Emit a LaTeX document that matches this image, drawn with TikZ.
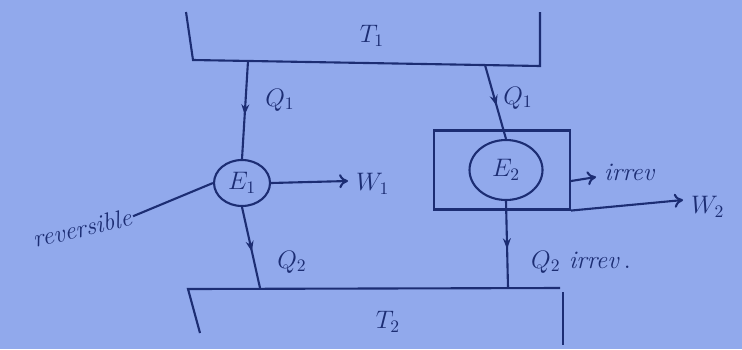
\documentclass[tikz,border=0pt]{standalone}
\usetikzlibrary{shapes.geometric,decorations.markings,arrows.meta}
\definecolor{bgblue}{RGB}{145,169,236}
\definecolor{ink}{RGB}{28,45,115}
\tikzset{
  ln/.style={draw=ink, line width=1.2pt},
  flow/.style={ln, postaction={decorate}, decoration={markings, mark=at position 0.55 with {\arrow{Stealth[length=6pt]}}}},
  outarrow/.style={ln, -{To[length=5pt,width=8pt]}},
  engine/.style={ellipse, ln, inner sep=0pt, font=\Large, text=ink},
  lbl/.style={text=ink, font=\Large},
  hand/.style={text=ink, font=\Large\itshape}
}
\begin{document}
\begin{tikzpicture}[x=0.02cm,y=-0.02cm]
\fill[bgblue] (0,0) rectangle (742,349);
\useasboundingbox (0,0) rectangle (742,349);
% hot reservoir
\draw[ln] (186,12) -- (193,60) -- (540,66) -- (540,12);
\node[lbl] (T1) at (372,36) {$T_1$};
\coordinate (t1a) at (248,61);
\coordinate (t1b) at (485,65);
% cold reservoir
\draw[ln] (200,333) -- (188,289) -- (560,288);
\draw[ln] (563,292) -- (563,345);
\node[lbl] (T2) at (388,322) {$T_2$};
\coordinate (t2a) at (260,288);
\coordinate (t2b) at (508,288);
% engine 1
\node[engine, minimum width=1.12cm, minimum height=0.92cm] (E1) at (242,183) {$E_1$};
\draw[flow] (t1a) -- (E1.north);
\node[lbl] (Q1a) at (280,100) {$Q_1$};
\draw[flow] (E1.south) -- (t2a);
\node[lbl] (Q2a) at (292,262) {$Q_2$};
\coordinate (w1) at (348,181);
\draw[outarrow] (E1.east) -- (w1);
\node[lbl, anchor=west] (W1) at (350,184) {$W_1$};
\node[hand, rotate=13, inner sep=1pt] (rev) at (82,228) {reversible};
\draw[ln] (rev.east) -- (E1.west);
% engine 2
\node[ln, minimum width=2.72cm, minimum height=1.58cm, inner sep=0pt] (box) at (502,170) {};
\node[engine, minimum width=1.46cm, minimum height=1.2cm] (E2) at (506,170) {$E_2$};
\draw[flow] (t1b) -- (E2.north);
\node[lbl] (Q1b) at (518,98) {$Q_1$};
\draw[flow] (E2.south) -- (t2b);
\node[lbl, anchor=west] (Q2b) at (525,262) {$Q_2$ \textit{irrev}\,.};
\coordinate (irr) at (596,177);
\draw[outarrow] (box.east |- 0,181) -- (irr);
\node[hand, anchor=west] (irrev) at (598,172) {irrev};
\coordinate (w2) at (683,200);
\draw[outarrow] (box.south east) -- (w2);
\node[lbl, anchor=west] (W2) at (685,207) {$W_2$};
\end{tikzpicture}
\end{document}
